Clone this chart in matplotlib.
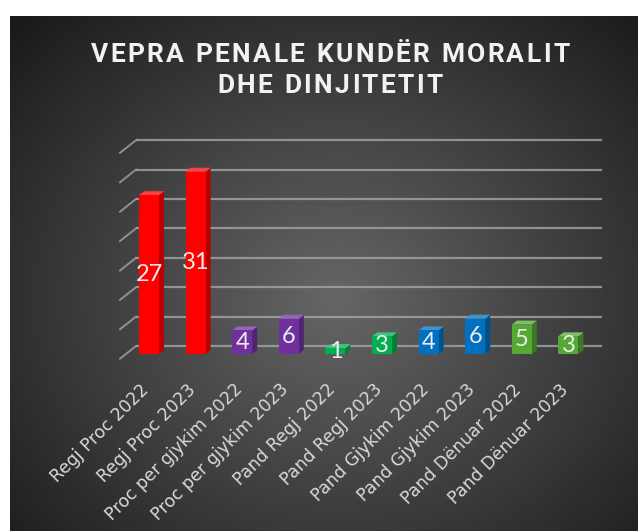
import numpy as np
import matplotlib.pyplot as plt
from matplotlib.patches import Polygon
from matplotlib.transforms import IdentityTransform, ScaledTranslation
from matplotlib.colors import to_rgb

# Data
categories = ["Regj Proc 2022", "Regj Proc 2023", "Proc per gjykim 2022",
              "Proc per gjykim 2023", "Pand Regj 2022", "Pand Regj 2023",
              "Pand Gjykim 2022", "Pand Gjykim 2023", "Pand Dënuar 2022",
              "Pand Dënuar 2023"]
values = [27, 31, 4, 6, 1, 3, 4, 6, 5, 3]
colors = ["#FF0000", "#FF0000", "#7030A0", "#7030A0", "#00B050", "#00B050",
          "#0070C0", "#0070C0", "#55A834", "#55A834"]
title_lines = ["VEPRA PENALE KUNDËR MORALIT", "DHE DINJITETIT"]
yticks = [0, 5, 10, 15, 20, 25, 30, 35]

W, H = 638, 531
fig = plt.figure(figsize=(W / 100, H / 100), dpi=100)
fig.patch.set_facecolor("white")

# dark radial background
bg = fig.add_axes([10 / W, 0, 1 - 10 / W, 1 - 16 / H])
gx, gy = np.meshgrid(np.linspace(0, 1, 300), np.linspace(0, 1, 300))
d = np.sqrt(((gx - 0.52) / 0.75) ** 2 + ((gy - 0.55) / 0.8) ** 2)
shade = np.clip(0.40 - 0.31 * d, 0.08, 0.42)
bg.imshow(np.dstack([shade] * 3), extent=[0, 1, 0, 1], aspect="auto", origin="upper")
bg.axis("off")

# chart axes (front plane)
x0, x1 = 125.7, 591.7
y0, y1 = 354, 148.2
ax = fig.add_axes([x0 / W, (H - y0) / H, (x1 - x0) / W, (y0 - y1) / H])
ax.set_xlim(-0.5, 9.5)
ax.set_ylim(0, 35)
ax.patch.set_alpha(0)
for s in ax.spines.values():
    s.set_visible(False)

px_x = (x1 - x0) / 10.0   # pixels per category
px_y = (y0 - y1) / 35.0   # pixels per unit

# back wall gridlines + left depth strokes
bdx, bdy = 10.3 / px_x, 8 / px_y
for v in yticks:
    ax.plot([-0.5 + bdx, 9.5 + bdx], [v + bdy, v + bdy], color="#a6a6a6",
            lw=1.6, alpha=0.8, zorder=1, clip_on=False, solid_capstyle="butt")
    ax.plot([-0.5 + bdx, -0.5 + bdx - 16 / px_x], [v + bdy, v + bdy - 12.7 / px_y],
            color="#a6a6a6", lw=1.4, alpha=0.8, zorder=1, clip_on=False)

# 3D bars
x = np.arange(len(values))
bw = 20 / px_x
ddx, ddy = 5 / px_x, 4 / px_y
ax.bar(x, values, width=bw, color=colors, zorder=3)
for xi, v, c in zip(x, values, colors):
    rgb = np.array(to_rgb(c))
    side = rgb * 0.72
    top = rgb + (1 - rgb) * 0.25
    xr = xi + bw / 2
    xl = xi - bw / 2
    ax.add_patch(Polygon([(xr, 0), (xr + ddx, ddy), (xr + ddx, v + ddy), (xr, v)],
                         closed=True, color=side, zorder=2.9, lw=0))
    ax.add_patch(Polygon([(xl, v), (xr, v), (xr + ddx, v + ddy), (xl + ddx, v + ddy)],
                         closed=True, color=top, zorder=2.9, lw=0))
    ax.text(xi, v / 2, str(v), ha="center", va="center", color="#ECECEC",
            fontsize=17, family="Lato", zorder=5)

ax.set_yticks([])
ax.set_xticks(x)
ax.set_xticklabels(categories, rotation=45, ha="right", rotation_mode="anchor",
                   fontsize=12.5, color="#D9D9D9", family="DejaVu Sans")
ax.tick_params(axis="x", length=0, pad=19)
shift = ScaledTranslation(-9 / 100, 0, fig.dpi_scale_trans)
for lbl in ax.get_xticklabels():
    lbl.set_transform(lbl.get_transform() + shift)

# title with letter spacing
fig.canvas.draw()
r = fig.canvas.get_renderer()
tkw = dict(fontsize=19, fontweight="bold", family="Roboto", color="#F2F2F2",
           transform=IdentityTransform(), va="baseline", ha="left")
lines = []
for line in title_lines:
    ts = [fig.text(0, 0, ch, **tkw) for ch in line]
    ws = [t.get_window_extent(r).width for t in ts]
    lines.append((ts, ws))
ts, ws = lines[0]
gap = (479 - sum(ws)) / (len(ws) - 1)
for (ts, ws), base in zip(lines, [H - 62, H - 93]):
    total = sum(ws) + gap * (len(ws) - 1)
    cx = 330 - total / 2
    for t, w in zip(ts, ws):
        t.set_position((cx, base))
        cx += w + gap

fig.savefig("out.png", dpi=100)
